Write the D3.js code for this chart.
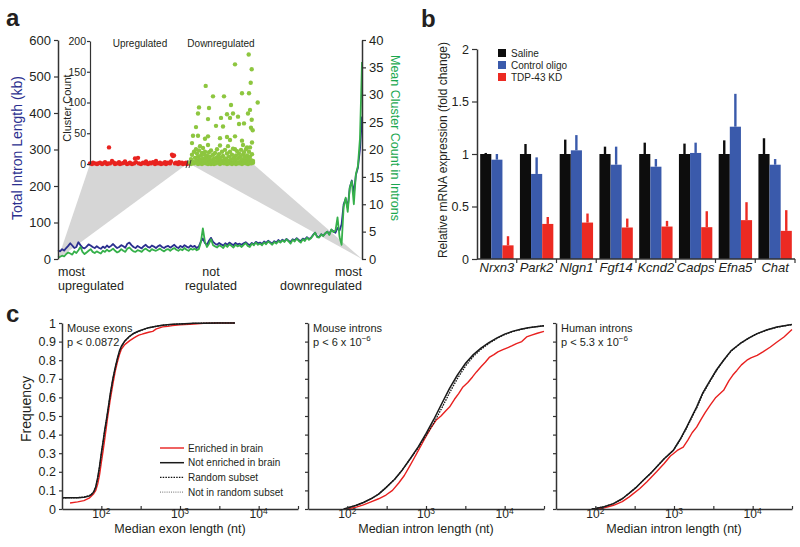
<!DOCTYPE html>
<html><head><meta charset="utf-8">
<script src="https://cdn.jsdelivr.net/npm/d3@7"></script>
<style>body{margin:0;background:#fff} svg{font-family:Arial,"Liberation Sans",sans-serif}</style>
</head><body><svg id="c" width="800" height="547"></svg>
<script>
// ---------- Panel a data ----------
const blueIntronKb = [24,21,27,23,30,36,43,37,30,33, 46,38,31,29,34,40,37,33,30,35,
 31,28,34,30,37,32,36,41,35,30, 33,38,35,31,42,45,38,33,30,36,
 32,29,35,39,33,31,37,34,30,35, 38,33,30,34,36,31,35,39,33,30,
 36,32,38,34,31,37,33,36,30,34, 48,56,44,38,50,58,47,42,39,44,
 40,37,43,39,45,41,38,44,40,42, 39,43,46,41,38,44,40,47,43,45,
 41,48,44,50,46,42,49,45,52,47, 53,49,55,50,47,54,51,57,52,49,
 56,53,60,55,58,66,72,62,60,68, 64,70,75,68,80,76,72,85,78,95,
 150,165,140,195,215,180,230,250,300,390];
const greenClusterMean = [0.3,0.4,0.6,0.5,0.9,1.2,1.0,0.8,1.4,1.1, 1.6,2.2,1.3,0.9,1.2,1.5,1.8,1.3,1.1,1.4,
 1.2,1.0,1.5,1.3,1.7,1.4,1.6,1.9,1.5,1.2, 1.4,1.8,1.5,1.3,1.9,2.1,1.7,1.4,1.3,1.6,
 1.5,1.3,1.7,1.9,1.6,1.4,1.8,1.6,1.5,1.7, 1.9,1.6,1.4,1.7,1.8,1.5,1.8,2.0,1.7,1.5,
 1.8,1.6,2.0,1.7,1.5,1.9,1.7,1.9,1.6,1.8, 3.0,5.6,3.2,2.2,2.8,3.6,2.5,2.3,2.1,2.5,
 2.3,2.0,2.6,2.2,2.7,2.4,2.1,2.6,2.3,2.5, 2.2,2.6,2.9,2.4,2.2,2.8,2.5,3.0,2.6,2.8,
 2.5,3.0,2.7,3.2,2.9,2.6,3.1,2.8,3.3,3.0, 3.4,3.1,3.6,3.2,2.8,3.5,3.2,3.7,3.3,3.0,
 3.6,3.3,3.9,3.5,3.8,4.3,4.8,4.0,3.9,4.5, 4.2,4.7,5.0,4.4,5.4,4.9,5.2,7.6,4.0,2.6,
 9.5,11.2,8.6,13.0,14.2,10.0,15.5,17.0,22.0,36.0];
const kbTicks = [0,100,200,300,400,500,600];
const countTicks = [0,5,10,15,20,25,30,35,40];
const insetTicks = [0,50,100,150,200];
const insetUp = [[0,1],[2,0],[3,2],[5,1],[7,0],[8,1],[10,2],[12,0],[13,1],[15,3],[17,0],[18,1],[19,27],[20,1],[22,5],[24,2],[25,0],[27,1],[29,3],[30,0],[32,1],[34,2],[35,4],[37,0],[39,1],[40,2],[42,0],[44,1],[45,9],[46,3],[48,10],[49,1],[51,0],[53,2],[55,1],[56,4],[58,0],[60,2],[61,1],[63,3],[65,0],[66,5],[68,1],[70,2],[71,0],[73,1],[75,3],[76,0],[78,2],[80,1],[81,4],[82,15],[83,13],[84,14],[85,1],[86,2],[88,0],[89,3],[90,1],[92,2],[93,0],[95,1],[96,2],[97,0]];
const insetDown = [[158.7,178],[145,162],[161.7,154],[115.7,127],[160.7,132],[159,115],[152,115],[123,110],[134,110],[141,96],[167.7,100],[109,92],[108,82],[119,91],[143,82],[137,81],[140,75],[148,77],[118,73],[131,75],[158,82],[160,88],[161.7,72],[106,60],[126,62],[133,61],[149,65],[154,66],[161,59],[162.7,55],[108,46],[103,46],[115,41],[118,45],[130,42],[137,44],[140,39],[145,45],[152,38],[102,34],[110,29],[113,26],[118,31],[130,30],[138,29],[145,24],[153,31],[157,27],
 [100,2],[101,8],[101,0],[102,15],[103,4],[104,20],[104,1],[105,10],[106,3],[106,24],[107,6],[107,17],[108,0],[108,12],[109,3],[109,22],[110,8],[110,1],[111,14],[111,5],[112,18],[112,0],[113,9],[114,2],[114,16],[115,6],[115,20],[116,1],[116,11],[117,4],[117,14],[118,0],[119,8],[119,19],[120,3],[120,12],[121,0],[121,22],[122,6],[123,2],[123,15],[124,9],[124,0],[125,18],[125,4],[126,1],[127,11],[127,24],[128,3],[128,7],[129,16],[130,0],[130,10],[131,5],[132,20],[132,2],[133,13],[134,1],[134,7],[135,23],[135,3],[136,9],[137,0],[137,17],[138,5],[139,12],[139,1],[140,20],[141,4],[141,8],[142,15],[142,0],[143,25],[144,2],[144,10],[145,6],[146,14],[146,0],[147,21],[148,3],[148,9],[149,1],[149,17],[150,12],[151,5],[151,23],[152,0],[152,8],[153,15],[154,2],[154,19],[155,6],[155,11],[156,1],[156,24],[157,4],[157,14],[158,9],[158,0],[159,20],[159,3],[160,12],[160,27],[161,6],[161,1],[162,16],[162,35],[163,2],[163,5]];
const upSpan = [0,97], downSpan = [100,163];

// ---------- Panel b data ----------
const genes = ["Nrxn3","Park2","Nlgn1","Fgf14","Kcnd2","Cadps","Efna5","Chat"];
const conditions = ["Saline","Control oligo","TDP-43 KD"];
const salineVals = [1.0,1.0,1.0,1.0,1.0,1.0,1.0,1.0];
const salineErr  = [1.01,1.095,1.137,1.07,1.108,1.099,1.13,1.15];
const controlVals = [0.946,0.81,1.035,0.898,0.879,1.01,1.26,0.898];
const controlErr  = [1.0,0.968,1.18,1.07,0.952,1.108,1.573,0.952];
const kdVals = [0.13,0.334,0.347,0.30,0.309,0.303,0.37,0.268];
const kdErr  = [0.217,0.40,0.433,0.385,0.363,0.455,0.541,0.465];
const foldTicks = [0,0.5,1,1.5,2];

// ---------- Panel c data ----------
const exonLenA = [32,50,60,70,75,80,85,90,95,100,105,110,115,120,125,130,140,150,160,170,180,200,230,260,300,350,400,500,600,800,1000,1500,2000,3000,5000];
const exonNotEnriched = [0.060,0.061,0.063,0.070,0.078,0.092,0.12,0.17,0.23,0.30,0.36,0.42,0.47,0.52,0.57,0.62,0.70,0.76,0.81,0.85,0.875,0.905,0.93,0.945,0.957,0.967,0.975,0.983,0.988,0.993,0.995,0.998,0.999,1,1];
const exonRandom = [0.060,0.061,0.064,0.071,0.080,0.094,0.12,0.165,0.225,0.295,0.355,0.415,0.465,0.515,0.565,0.615,0.695,0.755,0.805,0.845,0.872,0.903,0.928,0.944,0.956,0.966,0.974,0.982,0.988,0.992,0.995,0.998,0.999,1,1];
const exonNotRandom = [0.059,0.060,0.062,0.069,0.077,0.090,0.118,0.168,0.228,0.298,0.358,0.418,0.468,0.518,0.568,0.618,0.698,0.758,0.808,0.848,0.874,0.904,0.929,0.945,0.957,0.967,0.975,0.983,0.988,0.993,0.995,0.998,0.999,1,1];
const exonLenB = [40,50,60,70,80,85,90,95,100,105,110,115,120,130,140,150,160,170,180,200,230,260,280,300,330,360,400,450,500,550,600,700,800,1000,1500,2000,3000,5000];
const exonEnriched = [0.032,0.038,0.045,0.058,0.082,0.10,0.135,0.185,0.25,0.31,0.37,0.43,0.49,0.59,0.67,0.74,0.79,0.83,0.86,0.885,0.905,0.92,0.928,0.935,0.94,0.945,0.95,0.955,0.968,0.974,0.979,0.982,0.986,0.99,0.995,0.998,1,1];

const mIntronLenA = [90,100,130,160,200,250,310,400,500,630,800,1000,1250,1600,2000,2500,3200,4000,5000,6300,8000,10000,12500,16000,20000,25000,31600];
const mIntronNotEnriched = [0,0.005,0.02,0.035,0.055,0.08,0.115,0.16,0.21,0.27,0.335,0.405,0.48,0.57,0.65,0.72,0.785,0.83,0.865,0.895,0.92,0.94,0.955,0.966,0.975,0.98,0.985];
const mIntronRandom = [0,0.005,0.02,0.035,0.055,0.08,0.115,0.16,0.21,0.27,0.33,0.395,0.46,0.545,0.625,0.70,0.77,0.82,0.858,0.89,0.917,0.938,0.953,0.965,0.974,0.98,0.985];
const mIntronNotRandom = [0,0.005,0.02,0.036,0.056,0.081,0.116,0.161,0.21,0.268,0.332,0.40,0.47,0.558,0.638,0.712,0.778,0.826,0.862,0.893,0.919,0.939,0.954,0.966,0.975,0.98,0.985];
const mIntronLenB = [100,130,160,200,250,310,375,450,530,610,700,800,900,1000,1150,1340,1550,1800,1990,2300,2600,2950,3400,3900,4380,5000,5700,6440,7300,8200,9500,11000,12500,14100,16500,19000,22000,26000,31600];
const mIntronEnriched = [0,0.01,0.022,0.038,0.055,0.075,0.10,0.14,0.18,0.225,0.27,0.315,0.355,0.39,0.435,0.477,0.50,0.53,0.548,0.59,0.62,0.656,0.68,0.71,0.737,0.765,0.79,0.817,0.83,0.845,0.857,0.868,0.878,0.889,0.90,0.925,0.935,0.945,0.955];

const hIntronLenA = [90,100,130,170,220,270,334,420,500,600,750,980,1200,1450,1700,1940,2300,2870,3500,4270,5300,6950,9000,11400,15000,20300,31600];
const hIntronNotEnriched = [0,0.003,0.012,0.029,0.055,0.085,0.118,0.16,0.19,0.226,0.27,0.315,0.375,0.44,0.5,0.548,0.62,0.69,0.75,0.80,0.85,0.89,0.92,0.943,0.962,0.978,0.992];
const hIntronRandom = [0,0.003,0.012,0.029,0.055,0.085,0.118,0.16,0.19,0.226,0.27,0.315,0.372,0.435,0.495,0.542,0.615,0.686,0.747,0.798,0.848,0.889,0.919,0.942,0.961,0.977,0.992];
const hIntronNotRandom = [0,0.003,0.013,0.03,0.056,0.086,0.119,0.161,0.191,0.227,0.271,0.316,0.378,0.444,0.504,0.552,0.624,0.693,0.752,0.802,0.851,0.891,0.921,0.944,0.963,0.978,0.992];
const hIntronLenB = [100,130,170,220,270,368,450,600,750,900,980,1100,1310,1500,1700,1940,2200,2500,2900,3400,4270,5000,5600,6300,7200,8450,9500,11400,13500,16800,20000,25000,31600];
const hIntronEnriched = [0,0.006,0.02,0.04,0.065,0.11,0.145,0.2,0.245,0.285,0.297,0.315,0.333,0.37,0.41,0.44,0.48,0.52,0.56,0.6,0.638,0.69,0.72,0.745,0.775,0.8,0.812,0.826,0.845,0.871,0.895,0.925,0.965];
const freqTicks = [0,0.1,0.2,0.3,0.4,0.5,0.6,0.7,0.8,0.9,1];
const lenTicks = [100,316.2,1000,3162,10000,31623];
const legendLabels = ["Enriched in brain","Not enriched in brain","Random subset","Not in random subset"];

// ---------- drawing ----------
const FONT = 'Arial,"Liberation Sans",sans-serif';
const TXT = "#231f20", AX = "#333";
const svg = d3.select("#c");
function styleAxis(g, fs){
  g.attr("font-family", FONT).attr("font-size", fs);
  g.select(".domain").attr("stroke", AX).attr("stroke-width", 1.5);
  g.selectAll(".tick line").attr("stroke", AX).attr("stroke-width", 1.2);
  g.selectAll(".tick text").attr("fill", TXT);
}
function label(x, y, t, opt={}){
  const e = svg.append("text").attr("x", x).attr("y", y).text(t)
    .attr("font-size", opt.fs||13).attr("fill", opt.fill||TXT)
    .attr("text-anchor", opt.anchor||"start");
  if (opt.rot) e.attr("transform", `rotate(${opt.rot},${x},${y})`);
  if (opt.bold) e.attr("font-weight","bold");
  if (opt.italic) e.attr("font-style","italic");
  return e;
}

// ===== Panel a =====
const xA = d3.scaleLinear().domain([0, blueIntronKb.length-1]).range([58,362]);
const yAL = d3.scaleLinear().domain([0,600]).range([259,40]);
const yAR = d3.scaleLinear().domain([0,40]).range([259,40]);
const xIn = d3.scaleLinear().domain([0,170]).range([90,260]);
const yIn = d3.scaleLinear().domain([0,200]).range([164,41]);

svg.append("path").attr("fill","#d6d6d6")
  .attr("d", d3.line()([[xIn(upSpan[0]),yIn(0)],[xIn(upSpan[1]),yIn(0)],[xA(0),yAL(0)]])+"Z");
svg.append("path").attr("fill","#d6d6d6")
  .attr("d", d3.line()([[xIn(downSpan[0]),yIn(0)],[xIn(downSpan[1]),yIn(0)],[xA(blueIntronKb.length-1),yAL(0)]])+"Z");

svg.append("path").datum(blueIntronKb).attr("fill","none").attr("stroke","#2b2f8f").attr("stroke-width",1.8)
  .attr("stroke-linejoin","round")
  .attr("d", d3.line().x((d,i)=>xA(i)).y(d=>yAL(d)));
svg.append("path").datum(greenClusterMean).attr("fill","none").attr("stroke","#35b04a").attr("stroke-width",1.8)
  .attr("stroke-linejoin","round")
  .attr("d", d3.line().x((d,i)=>xA(i)).y(d=>yAR(d)));

const axL = svg.append("g").attr("transform","translate(58,0)")
  .call(d3.axisLeft(yAL).tickValues(kbTicks).tickSize(4).tickSizeOuter(0).tickPadding(3));
styleAxis(axL, 13);
const axR = svg.append("g").attr("transform","translate(362,0)")
  .call(d3.axisRight(yAR).tickValues(countTicks).tickSize(4).tickSizeOuter(0).tickPadding(3));
styleAxis(axR, 13);

// inset
svg.append("g").selectAll("circle").data(insetUp).join("circle")
  .attr("cx", d=>xIn(d[0])).attr("cy", d=>yIn(d[1])).attr("r",2.2).attr("fill","#e8231f");
svg.append("g").selectAll("circle").data(insetDown).join("circle")
  .attr("cx", d=>xIn(d[0])).attr("cy", d=>yIn(d[1])).attr("r",2.2).attr("fill","#8dc63f");
const axIn = svg.append("g").attr("transform","translate(90,0)")
  .call(d3.axisLeft(yIn).tickValues(insetTicks).tickSize(3).tickSizeOuter(0).tickPadding(1));
styleAxis(axIn, 10.5);
axIn.select(".domain").attr("stroke-width",1.2);
const bx = xIn((upSpan[1]+downSpan[0])/2);
svg.append("path").attr("stroke","#333").attr("stroke-width",0.9).attr("fill","none")
  .attr("d", `M${bx-2.5},${yIn(0)+4}L${bx-0.5},${yIn(0)-4}M${bx+0.5},${yIn(0)+4}L${bx+2.5},${yIn(0)-4}`);
label(140, 47, "Upregulated", {fs:10, anchor:"middle"});
label(221, 47, "Downregulated", {fs:10, anchor:"middle"});
label(71, 108, "Cluster Count", {fs:11, anchor:"middle", rot:-90});

label(22, 148, "Total Intron Length (kb)", {fs:14, anchor:"middle", rot:-90, fill:"#2b2f8f"});
label(391, 138, "Mean Cluster Count in Introns", {fs:12.5, anchor:"middle", rot:90, fill:"#1aa84f"});
label(58, 276, "most", {anchor:"start", fs:12.5});
label(58, 290, "upregulated", {anchor:"start", fs:12.5});
label(211, 276, "not", {anchor:"middle", fs:12.5});
label(211, 290, "regulated", {anchor:"middle", fs:12.5});
label(362, 276, "most", {anchor:"end", fs:12.5});
label(362, 290, "downregulated", {anchor:"end", fs:12.5});
label(6, 26, "a", {fs:24, bold:true});

// ===== Panel b =====
const seriesB = [
  {vals:salineVals, err:salineErr, color:"#0d0d0d"},
  {vals:controlVals, err:controlErr, color:"#3a5aab"},
  {vals:kdVals, err:kdErr, color:"#ec2a22"}
];
const xB = d3.scaleBand().domain(genes).range([477,795]).paddingInner(0.16).paddingOuter(0.08);
const xBs = d3.scaleBand().domain(conditions).range([0, xB.bandwidth()]);
const yB = d3.scaleLinear().domain([0,2]).range([259,49]);
seriesB.forEach((s, k) => {
  const g = svg.append("g");
  g.selectAll("rect").data(genes).join("rect")
    .attr("x", (d)=>xB(d)+xBs(conditions[k])).attr("width", xBs.bandwidth())
    .attr("y", (d,i)=>yB(s.vals[i])).attr("height", (d,i)=>yB(0)-yB(s.vals[i]))
    .attr("fill", s.color);
  g.selectAll("line").data(genes).join("line")
    .attr("x1", d=>xB(d)+xBs(conditions[k])+xBs.bandwidth()/2)
    .attr("x2", d=>xB(d)+xBs(conditions[k])+xBs.bandwidth()/2)
    .attr("y1", (d,i)=>yB(s.vals[i])).attr("y2", (d,i)=>yB(s.err[i]))
    .attr("stroke", s.color).attr("stroke-width", 2.4);
});
const axBY = svg.append("g").attr("transform","translate(477,0)")
  .call(d3.axisLeft(yB).tickValues(foldTicks).tickFormat(d3.format("")).tickSize(5).tickSizeOuter(0).tickPadding(3));
styleAxis(axBY, 12.5);
svg.append("line").attr("x1",477).attr("x2",795).attr("y1",yB(0)).attr("y2",yB(0)).attr("stroke",AX).attr("stroke-width",1.5);
svg.append("g").selectAll("line").data(genes).join("line")
  .attr("x1", (d)=>xB(d)-xB.step()*xB.paddingOuter()+xB.step()).attr("x2",(d)=>xB(d)-xB.step()*xB.paddingOuter()+xB.step())
  .attr("y1", yB(0)).attr("y2", yB(0)+4).attr("stroke",AX).attr("stroke-width",1.2);
svg.append("g").selectAll("text").data(genes).join("text")
  .attr("x", d=>xB(d)+xB.bandwidth()/2).attr("y", 272).attr("text-anchor","middle")
  .attr("font-size",13).attr("font-style","italic").attr("fill",TXT).text(d=>d);
label(447, 150, "Relative mRNA expression (fold change)", {fs:12, anchor:"middle", rot:-90});
conditions.forEach((c,k)=>{
  svg.append("rect").attr("x",498).attr("y",49+k*12).attr("width",8).attr("height",8).attr("fill",seriesB[k].color);
  label(511, 57+k*12, c, {fs:10});
});
label(421, 27, "b", {fs:24, bold:true});

// ===== Panel c =====
const yC = d3.scaleLinear().domain([0,1]).range([509,323]);
const subplots = [
  {x0:62, xlabel:"Median exon length (nt)", title:"Mouse exons", p:["p < 0.0872",null],
   red:[exonLenB,exonEnriched], black:[exonLenA,exonNotEnriched], rnd:[exonLenA,exonRandom], nrnd:[exonLenA,exonNotRandom], yLabels:true},
  {x0:308, xlabel:"Median intron length (nt)", title:"Mouse introns", p:["p < 6 x 10","\u22126"],
   red:[mIntronLenB,mIntronEnriched], black:[mIntronLenA,mIntronNotEnriched], rnd:[mIntronLenA,mIntronRandom], nrnd:[mIntronLenA,mIntronNotRandom]},
  {x0:556, xlabel:"Median intron length (nt)", title:"Human introns", p:["p < 5.3 x 10","\u22126"],
   red:[hIntronLenB,hIntronEnriched], black:[hIntronLenA,hIntronNotEnriched], rnd:[hIntronLenA,hIntronRandom], nrnd:[hIntronLenA,hIntronNotRandom]}
];
subplots.forEach(sp=>{
  const x = d3.scaleLog().domain([31.62,31623]).range([sp.x0, sp.x0+236]);
  const ln = d3.line().x(d=>x(d[0])).y(d=>yC(d[1]));
  const draw = (pair, color, w, dash) => svg.append("path").datum(d3.zip(pair[0], pair[1]))
      .attr("fill","none").attr("stroke",color).attr("stroke-width",w).attr("stroke-dasharray",dash||null)
      .attr("stroke-linejoin","round").attr("d", ln);
  draw(sp.red, "#e8201f", 1.4);
  draw(sp.nrnd, "#8a8a8a", 1.1, "1,1.2");
  draw(sp.rnd, "#111", 1.2, "1.5,1.2");
  draw(sp.black, "#1a1a1a", 1.5);
  const ay = svg.append("g").attr("transform",`translate(${sp.x0},0)`)
    .call(d3.axisLeft(yC).tickValues(freqTicks).tickSize(3).tickSizeOuter(0).tickPadding(3)
      .tickFormat(sp.yLabels ? d3.format("") : ()=>""));
  styleAxis(ay, 12.5);
  const ax = svg.append("g").attr("transform",`translate(0,${yC(0)})`)
    .call(d3.axisBottom(x).tickValues(lenTicks).tickSize(-3).tickSizeOuter(0).tickFormat(()=>""));
  styleAxis(ax, 12);
  [100,1000,10000].forEach((v,i)=>{
    const t = svg.append("text").attr("x", x(v)).attr("y", 518).attr("text-anchor","middle")
      .attr("font-size",12).attr("fill",TXT);
    t.append("tspan").text("10");
    t.append("tspan").attr("dy",-4.5).attr("font-size",8.5).text(String(i+2));
  });
  label(sp.x0+118, 533, sp.xlabel, {fs:12.5, anchor:"middle"});
  label(sp.x0+5, 332, sp.title, {fs:11});
  const pt = label(sp.x0+5, 346, sp.p[0], {fs:11});
  if (sp.p[1]) pt.append("tspan").attr("dy",-5).attr("font-size",8).text(sp.p[1]);
});
label(31, 409, "Frequency", {fs:14, anchor:"middle", rot:-90});
const legStyles = [["#e8201f",1.4,null],["#1a1a1a",1.5,null],["#111",1.2,"1.5,1.2"],["#8a8a8a",1.1,"1,1.2"]];
legendLabels.forEach((t,i)=>{
  const yy = 448 + i*14.7;
  svg.append("line").attr("x1",160).attr("x2",184).attr("y1",yy).attr("y2",yy)
    .attr("stroke",legStyles[i][0]).attr("stroke-width",legStyles[i][1]).attr("stroke-dasharray",legStyles[i][2]);
  label(188, yy+3.5, t, {fs:10});
});
label(6, 322, "c", {fs:24, bold:true});
</script></body></html>
